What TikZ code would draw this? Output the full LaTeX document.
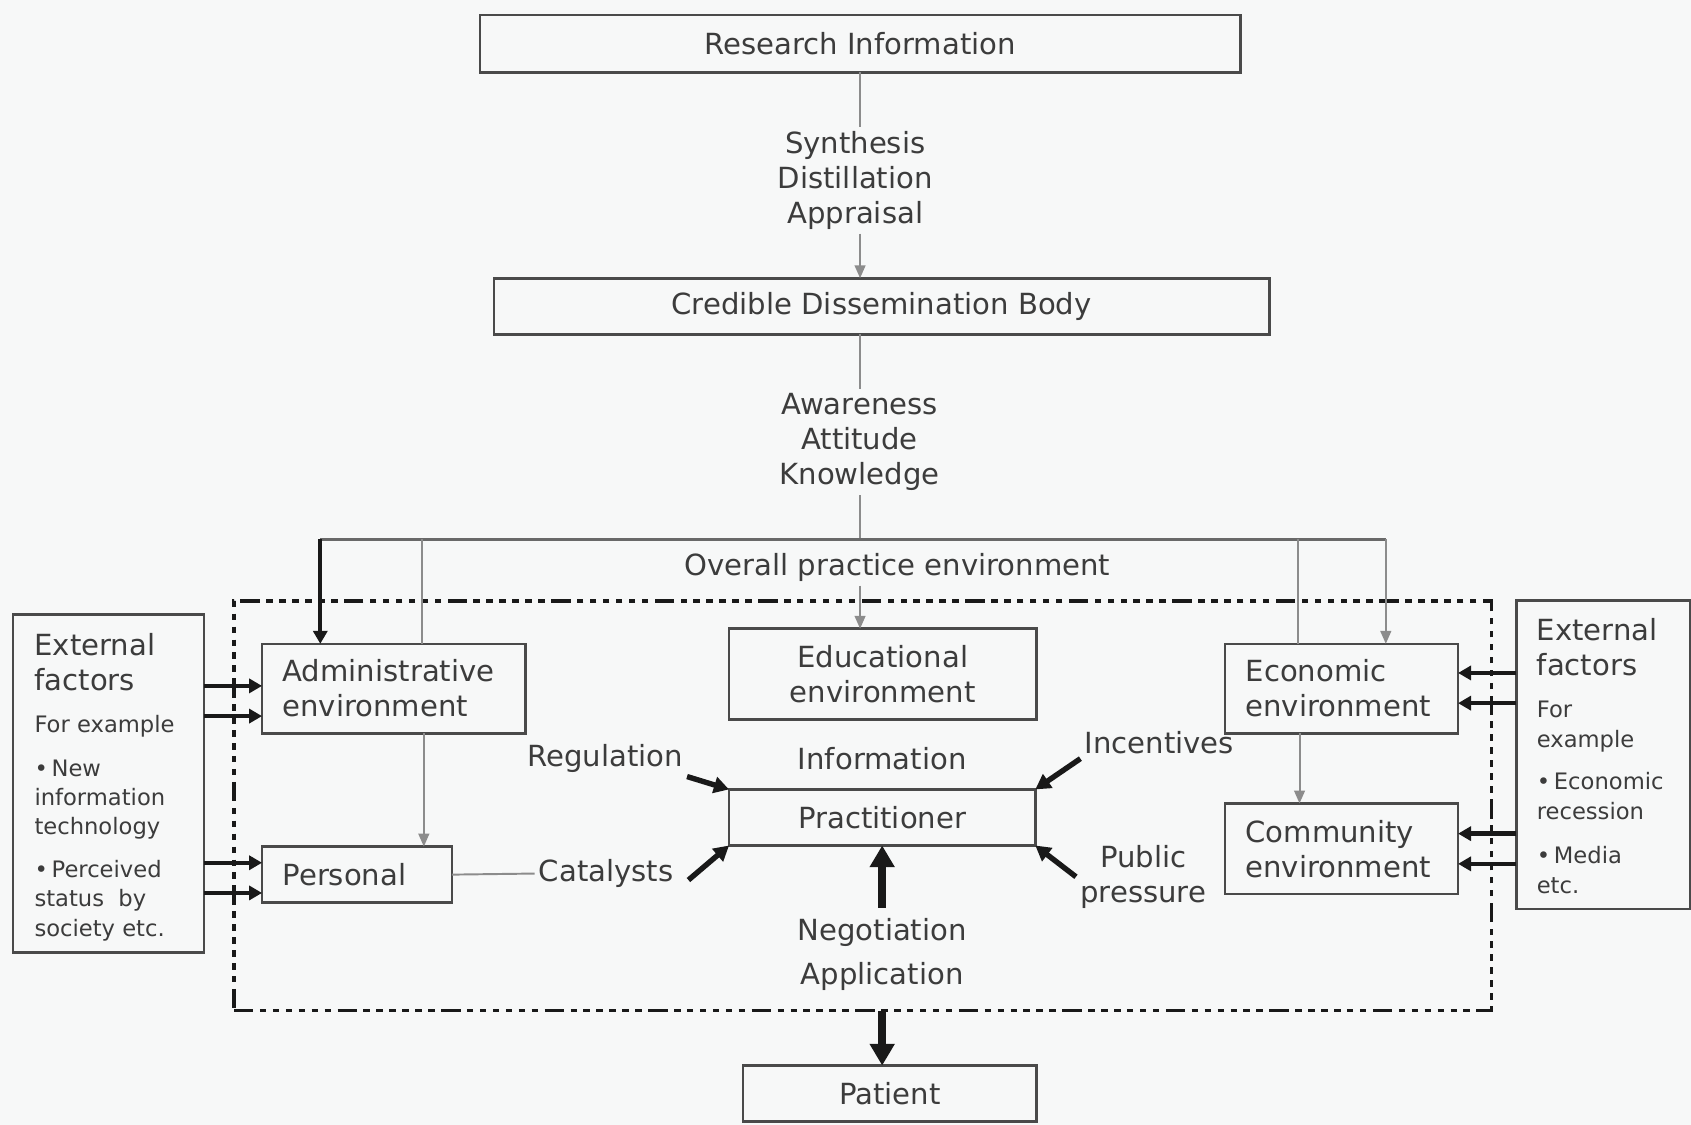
\documentclass[tikz,border=0pt]{standalone}
\usepackage{fontspec}
\setmainfont{DejaVu Sans}
\usetikzlibrary{positioning,arrows.meta}
\definecolor{bggray}{RGB}{247,248,248}
\definecolor{boxgray}{RGB}{74,74,74}
\definecolor{txtgray}{RGB}{60,60,60}
\definecolor{arrgray}{RGB}{140,140,140}
\definecolor{linegray}{RGB}{105,105,105}

\begin{document}
\begin{tikzpicture}
[x=0.5pt,y=-0.5pt,
 every node/.style={text=txtgray,font=\fontsize{13.5}{16.25}\selectfont,inner sep=0pt,outer sep=0pt},
 box/.style={draw=boxgray,line width=1.2pt,align=center},
 lbox/.style={box,align=left,inner xsep=9.5pt},
 lbl/.style={align=center,inner sep=2pt},
 exttxt/.style={align=left,font=\fontsize{10.5}{13.5}\selectfont},
 gline/.style={arrgray,line width=0.9pt},
 garr/.style={gline,-{Triangle[length=6pt,width=5pt]}},
 barr/.style={black!90,line width=2pt,-{Triangle[length=6pt,width=6.5pt]}},
 carr/.style={black!90,line width=2.5pt,-{Triangle[length=7pt,width=7.5pt]}},
 bigarr/.style={black!90,line width=4pt,-{Triangle[length=10pt,width=11pt]}},
 envbox/.style={draw=black!90,line width=1.7pt,
   dash pattern=on 9pt off 3pt on 3pt off 3pt on 3pt off 3pt on 3pt off 3pt
                on 3pt off 3pt on 3pt off 3pt on 3pt off 3pt}]
\path[use as bounding box,fill=bggray] (0,0) rectangle (1568,1043);

\node[box,minimum width=352.5pt,minimum height=26.5pt] (res)  at (797.5,40.5) {Research Information};
\node[lbl]                                             (syn)  at (793,167)    {Synthesis\\Distillation\\Appraisal};
\node[box,minimum width=359.5pt,minimum height=26pt]   (cred) at (817.5,284)  {Credible Dissemination Body};
\node[lbl]                                             (awa)  at (797,410)    {Awareness\\Attitude\\Knowledge};
\node[inner sep=2pt]                                   (ovr)  at (832,526)    {Overall practice environment};
\node[envbox,minimum width=583pt,minimum height=190pt] (env)  at (800,747)    {};

\node[lbox,text width=103pt,minimum height=41.5pt]     (adm)  at (365,638.5)  {Administrative\\environment};
\node[box,minimum width=142.5pt,minimum height=42pt]   (edu)  at (818.5,625)  {Educational\\environment};
\node[lbox,text width=89pt,minimum height=41.5pt]      (eco)  at (1244,638.5) {Economic\\environment};
\node[lbox,text width=89pt,minimum height=42pt]        (com)  at (1244,787)   {Community\\environment};
\node[lbox,text width=69pt,minimum height=26pt]        (per)  at (331,811)    {Personal};
\node[box,minimum width=142pt,minimum height=26pt]     (pra)  at (818,758)    {Practitioner};
\node[box,minimum width=136pt,minimum height=26pt]     (pat)  at (825,1014)   {Patient};

\node (inf) [on grid,above=27.5pt of pra] {Information};
\node[lbl] (neg) [on grid,below=63.5pt of pra] {Negotiation\\[4pt]Application};
\node[inner sep=2pt] (reg) at (561,703)  {Regulation};
\node[inner sep=2pt] (inc) at (1075,689) {Incentives};
\node[inner sep=2pt] (cat) at (562,810)  {Catalysts};
\node[lbl]           (pub) at (1060,813) {Public\\pressure};

% external factors, left and right
\node[box,minimum width=88.5pt,minimum height=156.5pt] (extL) at (100.5,726.5) {};
\node[align=left,anchor=north west] (extLhd)  at (32,587) {External\\factors};
\node[exttxt,anchor=north west]     (extLtxt) at (32,663)
  {For example\\[7pt]\textbullet\,New\\information\\technology\\[6.5pt]\textbullet\,Perceived\\status\ \ by\\society etc.};
\node[box,minimum width=80.5pt,minimum height=143pt] (extR) at (1486.5,700) {};
\node[align=left,anchor=north west] (extRhd)  at (1425,573) {External\\factors};
\node[exttxt,font=\fontsize{10.5}{14}\selectfont,anchor=north west] (extRtxt) at (1425,650)
  {For\\example\\[5.5pt]\textbullet\,Economic\\recession\\[6pt]\textbullet\,Media\\etc.};

\coordinate (tl) at (297,500);
\coordinate (ta) at (391,500);
\coordinate (tb) at (1204,500);
\coordinate (tr) at (1285,500);
\coordinate (ap) at ([xshift=14pt]adm.south);
\coordinate (ec) at ([xshift=-19.5pt]eco.south);

\path[gline] (res.south)               edge (res.south |- syn.north);
\path[garr]  (res.south |- syn.south)  edge (res.south |- cred.north);
\path[gline] (res.south |- cred.south) edge (res.south |- awa.north);
\path[gline] (res.south |- awa.south)  edge (res.south |- tl);
\path[draw=linegray,line width=1.2pt] (tl) -- (tr);
\path[barr]  (tl) edge (tl |- adm.north);
\path[gline] (ta) edge (ta |- adm.north);
\path[gline] (tb) edge (tb |- eco.north);
\path[garr]  (tr) edge (tr |- eco.north);
\path[garr]  (res.south |- ovr.south) edge (res.south |- edu.north);
\path[garr]  (ap) edge (ap |- per.north);
\path[garr]  (ec) edge (ec |- com.north);
\path[gline] (per.east) edge (cat.west);

\path[carr] (reg.south east) edge (pra.north west);
\path[carr] ([xshift=5pt,yshift=-3pt]cat.east) edge (pra.south west);
\path[carr] (inc.south west) edge (pra.north east);
\path[carr] (pub.west) edge (pra.south east);
\path[bigarr] ([yshift=3pt]neg.north) edge (pra.south);
\path[bigarr] (env.south -| pra.south) edge (pat.north -| pra.south);

\foreach \y/\t in {636/adm,664/adm,800/per,828/per}
  \path[barr] (extL.east |- 0,\y) edge (\t.west |- 0,\y);
\foreach \y/\t in {624/eco,652/eco,773/com,801/com}
  \path[barr] (extR.west |- 0,\y) edge (\t.east |- 0,\y);
\end{tikzpicture}
\end{document}
